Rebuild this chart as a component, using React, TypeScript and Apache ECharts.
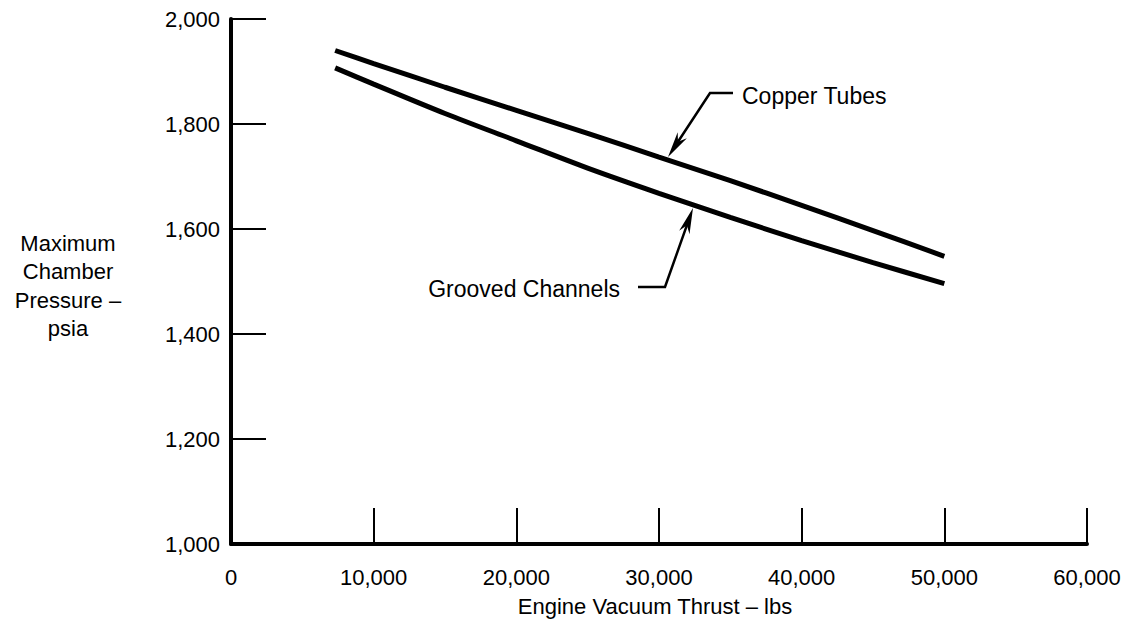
import React, { useEffect, useRef } from "react";
import * as echarts from "echarts";

const copperThrust = [7300, 10000, 15000, 20000, 25000, 30000, 35000, 40000, 45000, 50000];
const copperPressure = [1940, 1915, 1870, 1826, 1782, 1737, 1692, 1645, 1597, 1548];
const groovedThrust = [7300, 10000, 15000, 20000, 25000, 30000, 35000, 40000, 45000, 50000];
const groovedPressure = [1907, 1876, 1820, 1768, 1716, 1668, 1622, 1578, 1536, 1496];
const yTitleLines = ["Maximum", "Chamber", "Pressure \u2013", "psia"];
const xTitle = "Engine Vacuum Thrust \u2013 lbs";

const FONT = "'Liberation Sans', Arial, Helvetica, sans-serif";

function arrow(tip: number[], from: number[], len = 26, half = 5.5) {
  const dx = tip[0] - from[0];
  const dy = tip[1] - from[1];
  const d = Math.hypot(dx, dy);
  const ux = dx / d, uy = dy / d;
  const bx = tip[0] - ux * len, by = tip[1] - uy * len;
  const px = -uy, py = ux;
  return {
    base: [tip[0] - ux * len * 0.7, tip[1] - uy * len * 0.7],
    poly: [
      [tip[0], tip[1]],
      [bx + px * half, by + py * half],
      [tip[0] - ux * len * 0.7, tip[1] - uy * len * 0.7],
      [bx - px * half, by - py * half],
    ],
  };
}

export default function App() {
  const ref = useRef<HTMLDivElement>(null);
  useEffect(() => {
    if (!ref.current) return;
    const chart = echarts.init(ref.current, undefined, { renderer: "svg" });
    const fmt = (v: number) => (v === 0 ? "0" : v.toLocaleString("en-US"));

    const cTip = [668, 157], cBend = [710, 93], cEnd = [733, 93];
    const gTip = [693, 208], gBend = [665, 287], gEnd = [638, 287];
    const ca = arrow(cTip, cBend);
    const ga = arrow(gTip, gBend);

    chart.setOption({
      animation: false,
      backgroundColor: "#ffffff",
      grid: { left: 231, right: 47, top: 19, bottom: 82, containLabel: false },
      xAxis: {
        type: "value",
        min: 0,
        max: 60000,
        interval: 10000,
        axisLine: { show: true, lineStyle: { color: "#000", width: 4 } },
        axisTick: { show: true, inside: true, length: 36, lineStyle: { color: "#000", width: 2 } },
        splitLine: { show: false },
        axisLabel: {
          color: "#000",
          fontSize: 22,
          fontFamily: FONT,
          margin: 22,
          formatter: fmt,
        },
      },
      yAxis: {
        type: "value",
        min: 1000,
        max: 2000,
        interval: 200,
        axisLine: { show: true, lineStyle: { color: "#000", width: 4 } },
        axisTick: { show: true, inside: true, length: 35, lineStyle: { color: "#000", width: 2 } },
        splitLine: { show: false },
        axisLabel: {
          color: "#000",
          fontSize: 22,
          fontFamily: FONT,
          margin: 11,
          formatter: fmt,
        },
      },
      series: [
        {
          name: "Copper Tubes",
          type: "line",
          data: copperThrust.map((x, i) => [x, copperPressure[i]]),
          smooth: 0.3,
          symbol: "none",
          lineStyle: { color: "#000", width: 5, cap: "butt" },
        },
        {
          name: "Grooved Channels",
          type: "line",
          data: groovedThrust.map((x, i) => [x, groovedPressure[i]]),
          smooth: 0.3,
          symbol: "none",
          lineStyle: { color: "#000", width: 5, cap: "butt" },
        },
      ],
      graphic: [
        ...yTitleLines.map((t, i) => ({
          type: "text",
          x: 68,
          y: 243 + i * 28.5,
          style: {
            text: t,
            fill: "#000",
            font: `22px ${FONT}`,
            textAlign: "center",
            textVerticalAlign: "middle",
          },
        })),
        {
          type: "text",
          x: 655,
          y: 606,
          style: {
            text: xTitle,
            fill: "#000",
            font: `22px ${FONT}`,
            textAlign: "center",
            textVerticalAlign: "middle",
          },
        },
        {
          type: "text",
          x: 742,
          y: 96,
          style: {
            text: "Copper Tubes",
            fill: "#000",
            font: `23px ${FONT}`,
            textAlign: "left",
            textVerticalAlign: "middle",
          },
        },
        {
          type: "text",
          x: 620,
          y: 289,
          style: {
            text: "Grooved Channels",
            fill: "#000",
            font: `23px ${FONT}`,
            textAlign: "right",
            textVerticalAlign: "middle",
          },
        },
        {
          type: "polyline",
          shape: { points: [cEnd, cBend, ca.base] },
          style: { stroke: "#000", lineWidth: 2.5, fill: null },
        },
        {
          type: "polygon",
          shape: { points: ca.poly },
          style: { fill: "#000" },
        },
        {
          type: "polyline",
          shape: { points: [gEnd, gBend, ga.base] },
          style: { stroke: "#000", lineWidth: 2.5, fill: null },
        },
        {
          type: "polygon",
          shape: { points: ga.poly },
          style: { fill: "#000" },
        },
      ],
    });
    return () => chart.dispose();
  }, []);
  return (
    <div
      ref={ref}
      style={{ position: "fixed", left: 0, top: 0, width: 1134, height: 626, background: "#fff" }}
    />
  );
}
